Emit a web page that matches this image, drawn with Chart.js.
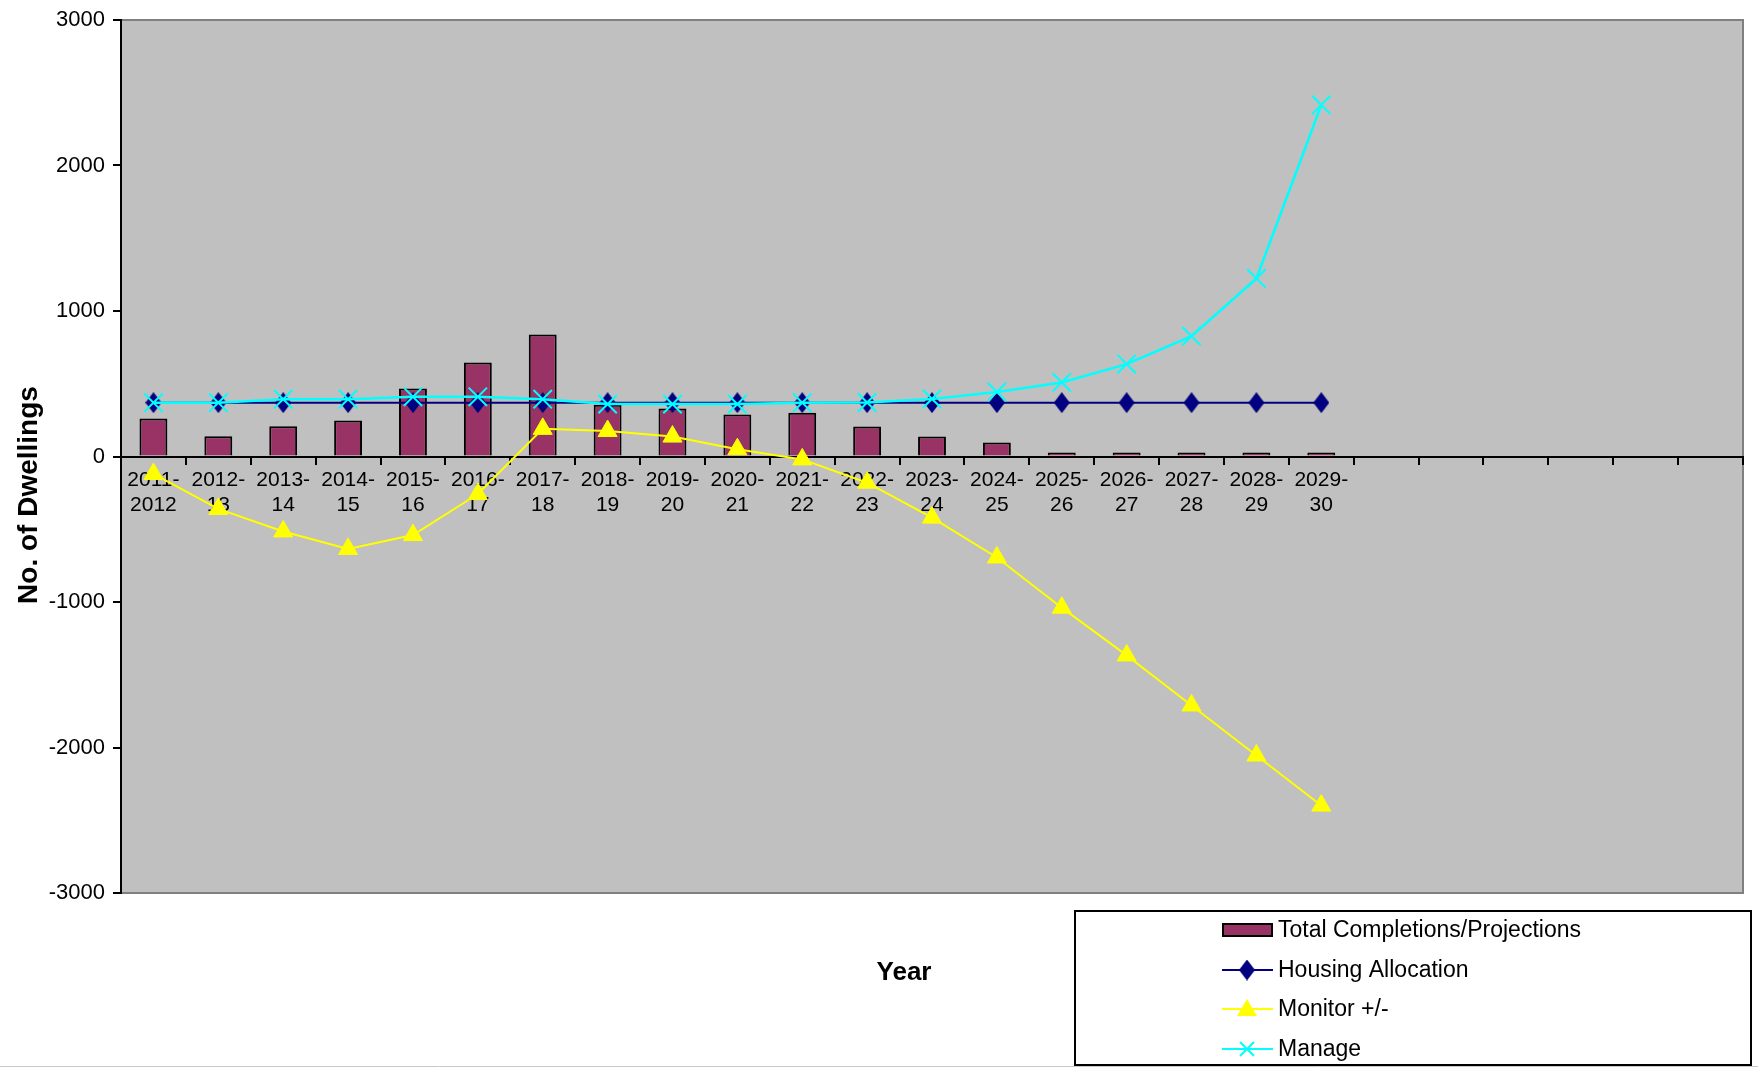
<!DOCTYPE html>
<html>
<head>
<meta charset="utf-8">
<script src="https://cdn.jsdelivr.net/npm/chart.js"></script>
<style>
  html, body { margin: 0; padding: 0; background: #fff; }
  canvas { display: block; }
</style>
</head>
<body>
<canvas id="dwellingsChart" width="1758" height="1067"></canvas>
<script>
// year labels (two lines each), plus the empty slots Excel left on the axis
const years = [
  ["2011-", "2012"], ["2012-", "13"], ["2013-", "14"], ["2014-", "15"], ["2015-", "16"],
  ["2016-", "17"], ["2017-", "18"], ["2018-", "19"], ["2019-", "20"], ["2020-", "21"],
  ["2021-", "22"], ["2022-", "23"], ["2023-", "24"], ["2024-", "25"], ["2025-", "26"],
  ["2026-", "27"], ["2027-", "28"], ["2028-", "29"], ["2029-", "30"],
  "", "", "", "", "", ""
];
const completions = [262, 140, 208, 248, 468, 646, 839, 355, 330, 289, 300, 206, 138, 96, 28, 28, 28, 28, 28];
const housingAllocation = [370, 370, 370, 370, 370, 370, 370, 370, 370, 370, 370, 370, 370, 370, 370, 370, 370, 370, 370];
const monitor = [-120, -360, -515, -635, -540, -258, 190, 175, 137, 50, -20, -180, -420, -694, -1039, -1367, -1711, -2055, -2399];
const manage = [370, 370, 394, 394, 410, 410, 394, 360, 360, 360, 370, 371, 396, 444, 509, 635, 827, 1224, 2416];
const yTicks = [-3000, -2000, -1000, 0, 1000, 2000, 3000];

const FONT = "'Liberation Sans', Arial, sans-serif";

// Excel's diamond marker is a bit taller than wide
const makeDiamond = (w, h, color) => {
  const c = document.createElement("canvas");
  c.width = w;
  c.height = h;
  const g = c.getContext("2d");
  g.fillStyle = color;
  g.beginPath();
  g.moveTo(w / 2, 0); g.lineTo(w, h / 2); g.lineTo(w / 2, h); g.lineTo(0, h / 2);
  g.closePath();
  g.fill();
  return c;
};
const diamond = makeDiamond(16, 21, "#000080");

// grey plot area with the darker Excel frame
const plotBackground = {
  id: "plotBackground",
  beforeDraw(chart) {
    const { ctx, chartArea: a } = chart;
    ctx.save();
    ctx.fillStyle = "#c0c0c0";
    ctx.fillRect(a.left, a.top, a.width, a.height);
    ctx.strokeStyle = "#808080";
    ctx.lineWidth = 2;
    ctx.strokeRect(a.left, a.top, a.width, a.height);
    ctx.restore();
  },
};

const drawMarker = (ctx, style, x, y, r) => {
  if (style instanceof HTMLCanvasElement) {
    ctx.drawImage(style, x - style.width / 2, y - style.height / 2);
    return;
  }
  ctx.beginPath();
  if (style === "triangle") {
    ctx.moveTo(x, y - r); ctx.lineTo(x + r, y + r * 0.7); ctx.lineTo(x - r, y + r * 0.7);
    ctx.closePath(); ctx.fill();
  } else if (style === "crossRot") {
    ctx.moveTo(x - r * 0.7, y - r * 0.7); ctx.lineTo(x + r * 0.7, y + r * 0.7);
    ctx.moveTo(x + r * 0.7, y - r * 0.7); ctx.lineTo(x - r * 0.7, y + r * 0.7);
    ctx.stroke();
  }
};

// axis titles placed like the Excel original, and the boxed legend bottom right
const extraText = {
  id: "extraText",
  afterDraw(chart) {
    const { ctx } = chart;
    ctx.save();
    ctx.fillStyle = "#000";
    ctx.font = "bold 26px " + FONT;
    ctx.textAlign = "center";
    ctx.textBaseline = "middle";
    ctx.fillText("Year", 904, 973);
    ctx.save();
    ctx.font = "bold 28px " + FONT;
    ctx.translate(29, 495);
    ctx.rotate(-Math.PI / 2);
    ctx.fillText("No. of Dwellings", 0, 0);
    ctx.restore();

    // legend
    ctx.strokeStyle = "#000";
    ctx.lineWidth = 2;
    ctx.strokeRect(1075, 911, 676, 154);
    ctx.font = "23px " + FONT;
    ctx.textAlign = "left";
    const rows = [930, 970, 1009, 1049];
    chart.data.datasets.forEach((ds, i) => {
      const y = rows[i];
      if (ds.type === "bar") {
        ctx.fillStyle = ds.backgroundColor;
        ctx.fillRect(1223, y - 6, 49, 12);
        ctx.lineWidth = 2;
        ctx.strokeStyle = "#000";
        ctx.strokeRect(1223, y - 6, 49, 12);
      } else {
        ctx.strokeStyle = ds.borderColor;
        ctx.lineWidth = 2;
        ctx.beginPath();
        ctx.moveTo(1222, y);
        ctx.lineTo(1273, y);
        ctx.stroke();
        ctx.fillStyle = ds.pointBackgroundColor;
        ctx.strokeStyle = ds.pointBorderColor;
        drawMarker(ctx, ds.pointStyle, 1247, y, 10);
      }
      ctx.fillStyle = "#000";
      ctx.fillText(ds.label, 1278, y + 1);
    });

    ctx.strokeStyle = "#c8c8c8";
    ctx.lineWidth = 1;
    ctx.beginPath();
    ctx.moveTo(0, 1066.5);
    ctx.lineTo(1758, 1066.5);
    ctx.stroke();
    ctx.restore();
  },
};

const drawChart = () => {
  const ctx = document.getElementById("dwellingsChart").getContext("2d");
  Chart.defaults.font.family = FONT;
  Chart.defaults.color = "#000";
  new Chart(ctx, {
    type: "bar",
    data: {
      labels: years,
      datasets: [
        {
          type: "bar",
          label: "Total Completions/Projections",
          data: completions,
          backgroundColor: "#993366",
          borderColor: "#000",
          borderWidth: 2,
          barPercentage: 0.43,
          categoryPercentage: 1,
          order: 4,
        },
        {
          type: "line",
          label: "Housing Allocation",
          data: housingAllocation,
          borderColor: "#000080",
          borderWidth: 2,
          pointStyle: diamond,
          pointBackgroundColor: "#000080",
          pointBorderColor: "#000080",
          tension: 0,
          fill: false,
          order: 3,
        },
        {
          type: "line",
          label: "Monitor +/-",
          data: monitor,
          borderColor: "#ffff00",
          borderWidth: 2,
          pointStyle: "triangle",
          pointRadius: 11,
          pointBackgroundColor: "#ffff00",
          pointBorderColor: "#ffff00",
          pointBorderWidth: 1,
          tension: 0,
          fill: false,
          order: 2,
        },
        {
          type: "line",
          label: "Manage",
          data: manage,
          borderColor: "#00ffff",
          borderWidth: 2.5,
          pointStyle: "crossRot",
          pointRadius: 13,
          pointBackgroundColor: "#00ffff",
          pointBorderColor: "#00ffff",
          pointBorderWidth: 2,
          tension: 0,
          fill: false,
          order: 1,
        },
      ],
    },
    options: {
      responsive: false,
      animation: false,
      layout: { padding: { left: 0, right: 8, top: 20, bottom: 174 } },
      plugins: { legend: { display: false }, tooltip: { enabled: false } },
      scales: {
        x: {
          position: { y: 0 },
          offset: true,
          grid: { offset: true, drawOnChartArea: false, drawTicks: true, tickLength: 7, color: "#000", lineWidth: 2 },
          border: { display: true, color: "#000", width: 2 },
          ticks: { autoSkip: false, maxRotation: 0, padding: 4, font: { size: 21 }, color: "#000" },
        },
        y: {
          min: -3000,
          max: 3000,
          afterBuildTicks: (scale) => { scale.ticks = yTicks.map((v) => ({ value: v })); },
          afterFit: (scale) => {
            scale.width = 121;
            scale.paddingTop = 0;
            scale.paddingBottom = 0;
          },
          grid: { drawOnChartArea: false, tickLength: 8, color: "#000", lineWidth: 2 },
          border: { display: true, color: "#000", width: 2 },
          ticks: { padding: 8, font: { size: 22 }, color: "#000", callback: (v) => String(v) },
        },
      },
    },
    plugins: [plotBackground, extraText],
  });
};

drawChart();
</script>
</body>
</html>
